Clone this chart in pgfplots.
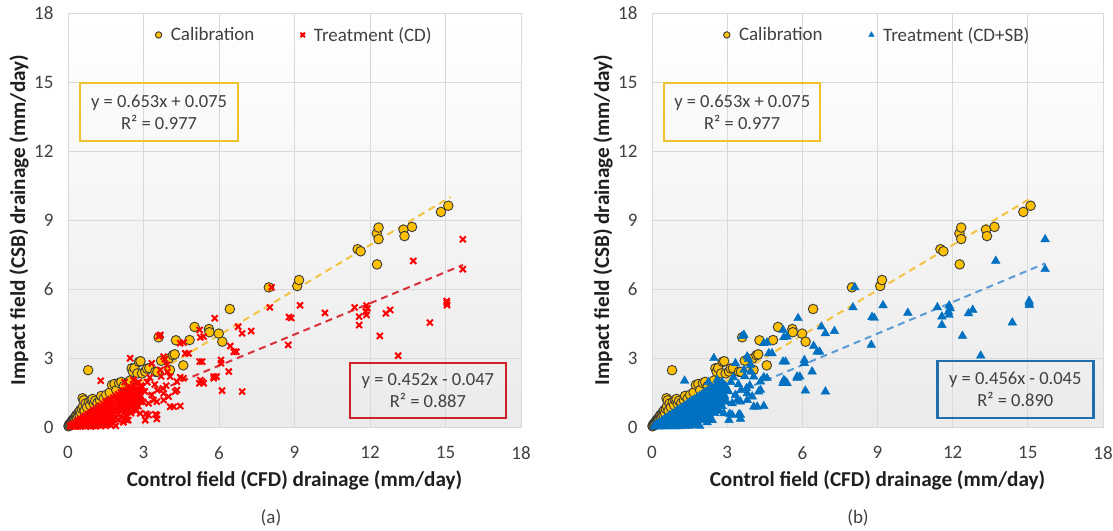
\documentclass[border=0pt]{standalone}
\usepackage{pgfplots}
\pgfplotsset{compat=1.18}
\usepackage{pgfplotstable}
\usepackage{fontspec}
\setmainfont{Carlito}
\definecolor{calfill}{HTML}{FFC000}
\definecolor{caledge}{HTML}{3A3A3A}
\definecolor{trtred}{HTML}{FF0000}
\definecolor{redline}{HTML}{D9303A}
\definecolor{redbox}{HTML}{D0202A}
\definecolor{trtblue}{HTML}{0070C0}
\definecolor{blueline}{HTML}{5B9BD5}
\definecolor{bluebox}{HTML}{1F6FAE}
\definecolor{yelline}{HTML}{F5C342}
\definecolor{yelbox}{HTML}{F2C12E}
\definecolor{gridc}{HTML}{D9D9D9}
\definecolor{tickc}{HTML}{404040}

\pgfplotstableread{
x y
0.02 0.03
0.04 0.10
0.06 0.06
0.08 0.14
0.10 0.10
0.12 0.20
0.14 0.16
0.16 0.26
0.18 0.22
0.20 0.32
0.22 0.18
0.24 0.36
0.26 0.28
0.28 0.42
0.30 0.34
0.32 0.50
0.35 0.40
0.38 0.56
0.40 0.48
0.43 0.64
0.46 0.52
0.48 0.72
0.52 0.60
0.55 0.80
0.58 1.25
0.60 0.90
0.63 1.16
0.66 0.70
0.70 1.02
0.75 0.86
0.80 2.47
0.83 1.08
0.88 0.95
0.93 1.18
0.98 1.22
1.03 1.00
1.08 1.14
1.17 1.05
1.27 1.16
1.32 1.35
1.42 1.24
1.52 1.40
1.66 1.50
1.75 1.83
1.85 1.87
1.92 1.60
2.03 1.91
2.12 1.96
2.22 1.78
2.40 1.94
2.47 2.02
2.53 2.55
2.58 2.40
2.64 2.56
2.76 2.33
2.82 2.83
2.88 2.86
2.94 2.33
3.07 2.41
3.14 2.54
3.23 2.56
3.47 2.40
3.55 2.40
3.60 3.90
3.70 2.88
4.00 2.97
4.05 2.48
4.17 3.12
4.24 3.16
4.29 3.77
4.58 2.68
4.83 3.78
5.03 4.35
5.60 4.26
5.62 4.12
5.99 4.06
6.13 3.71
6.43 5.13
7.98 6.07
9.11 6.13
9.18 6.39
11.51 7.73
11.63 7.64
12.27 8.42
12.28 7.07
12.34 8.67
12.34 8.17
13.33 8.58
13.37 8.30
13.67 8.70
14.82 9.35
15.11 9.62
}\calib

\pgfplotstableread{
x y
0.10 0.02
0.10 0.06
0.20 0.03
0.20 0.08
0.20 0.13
0.30 0.02
0.30 0.10
0.30 0.18
0.40 0.03
0.40 0.12
0.40 0.22
0.40 0.28
0.50 0.02
0.50 0.10
0.50 0.20
0.50 0.30
0.50 0.35
0.60 0.05
0.60 0.15
0.60 0.25
0.60 0.35
0.60 0.42
0.70 0.03
0.70 0.12
0.70 0.22
0.70 0.32
0.70 0.42
0.70 0.50
0.80 0.05
0.80 0.15
0.80 0.25
0.80 0.35
0.80 0.45
0.80 0.56
0.90 0.02
0.90 0.12
0.90 0.22
0.90 0.32
0.90 0.42
0.90 0.52
0.90 0.62
1.00 0.05
1.00 0.15
1.00 0.28
1.00 0.40
1.00 0.52
1.00 0.65
1.00 0.72
1.10 0.03
1.10 0.12
1.10 0.25
1.10 0.38
1.10 0.50
1.10 0.62
1.10 0.78
1.20 0.08
1.20 0.20
1.20 0.32
1.20 0.45
1.20 0.58
1.20 0.70
1.20 0.85
1.30 0.05
1.30 0.18
1.30 0.30
1.30 0.42
1.30 0.55
1.30 0.68
1.30 0.80
1.30 0.92
1.40 0.10
1.40 0.25
1.40 0.40
1.40 0.55
1.40 0.70
1.40 0.85
1.40 1.00
1.50 0.05
1.50 0.20
1.50 0.35
1.50 0.50
1.50 0.65
1.50 0.80
1.50 0.95
1.50 1.08
1.60 0.12
1.60 0.28
1.60 0.45
1.60 0.60
1.60 0.75
1.60 0.90
1.60 1.05
1.60 1.15
1.70 0.08
1.70 0.30
1.70 0.50
1.70 0.68
1.70 0.85
1.70 1.00
1.70 1.20
1.80 0.15
1.80 0.35
1.80 0.55
1.80 0.75
1.80 0.92
1.80 1.10
1.80 1.28
1.90 0.05
1.90 0.40
1.90 0.62
1.90 0.80
1.90 1.00
1.90 1.18
1.90 1.35
2.00 0.30
2.00 0.55
2.00 0.75
2.00 0.95
2.00 1.12
2.00 1.30
2.00 1.42
2.10 0.45
2.10 0.70
2.10 0.90
2.10 1.10
2.10 1.28
2.10 1.50
2.20 0.20
2.20 0.60
2.20 0.85
2.20 1.05
2.20 1.25
2.20 1.45
2.20 1.58
2.30 0.50
2.30 0.80
2.30 1.00
2.30 1.20
2.30 1.40
2.30 1.60
2.40 0.30
2.40 0.70
2.40 0.95
2.40 1.15
2.40 1.35
2.40 1.55
2.40 1.70
2.50 0.60
2.50 0.90
2.50 1.10
2.50 1.30
2.50 1.50
2.50 1.72
2.60 0.80
2.60 1.05
2.60 1.25
2.60 1.45
2.60 1.65
2.60 1.82
2.70 0.70
2.70 1.00
2.70 1.20
2.70 1.40
2.70 1.60
2.70 1.90
2.80 0.90
2.80 1.15
2.80 1.40
2.80 1.62
2.80 1.95
2.90 1.10
2.90 1.35
2.90 1.60
2.90 1.80
1.74 0.30
2.27 0.35
3.07 0.30
3.53 0.35
2.34 0.30
2.87 0.59
3.20 0.52
3.53 0.52
3.10 0.57
3.47 0.55
1.30 2.01
2.47 2.99
2.98 1.10
3.20 1.03
3.40 1.17
3.53 1.10
3.80 1.17
4.00 1.32
3.77 1.68
3.80 1.46
3.33 1.39
4.06 0.88
4.20 0.88
4.46 0.91
4.26 1.54
4.33 1.61
4.33 1.97
4.59 2.12
4.46 2.16
4.06 2.19
3.67 2.48
3.93 2.70
3.80 3.06
3.85 2.95
3.33 2.77
3.67 4.00
3.60 3.95
4.46 3.64
4.59 3.67
4.66 3.20
4.79 3.20
5.23 2.84
5.26 3.90
5.23 4.22
5.26 2.04
5.39 1.90
5.22 1.90
5.79 2.12
5.90 2.19
5.83 4.73
5.39 3.93
5.33 2.84
6.08 2.91
6.08 2.77
6.39 2.41
5.79 2.19
5.33 1.97
6.12 1.58
6.92 1.54
6.45 3.52
6.59 3.27
6.69 3.27
6.76 4.36
6.92 4.07
7.28 4.17
3.95 2.40
3.70 2.20
3.15 1.95
3.25 2.15
2.95 1.75
3.05 1.55
3.45 1.85
3.55 1.60
3.90 1.80
2.60 2.05
2.25 1.95
8.09 6.07
8.02 5.20
9.22 5.29
8.78 4.78
8.87 4.74
8.75 3.57
10.21 4.96
11.39 5.20
11.86 5.28
11.90 5.16
11.83 5.01
11.86 4.87
11.57 4.80
11.57 4.43
12.63 4.94
12.80 5.09
12.39 3.96
13.12 3.10
13.72 7.22
14.38 4.54
15.05 5.48
15.06 5.30
15.05 5.40
15.69 8.16
15.69 6.86
}\treat

\pgfplotsset{panel/.style={
  scale only axis, height=414bp,
  xmin=0, xmax=18, ymin=0, ymax=18,
  xtick={0,3,...,18}, ytick={0,3,...,18},
  /pgf/number format/assume math mode=true,
  grid=major, major grid style={gridc, line width=0.8bp},
  axis line style={gridc, line width=0.8bp},
  major tick length=0pt,
  axis background/.style={shade, top color=white, bottom color=black!8},
  tick label style={font=\fontsize{19bp}{22bp}\selectfont, text=tickc},
  xticklabel style={anchor=north, yshift=-16bp},
  yticklabel style={anchor=east, xshift=-11bp},
  label style={font=\fontsize{21.2bp}{25bp}\selectfont\bfseries, text=black!88},
  xlabel style={at={(axis description cs:0.5,0)}, anchor=center, yshift=-53bp},
  ylabel style={at={(axis description cs:0,0.5)}, anchor=center, yshift=49bp},
  xlabel={Control field (CFD) drainage (mm/day)},
  ylabel={Impact field (CSB) drainage (mm/day)},
  legend style={draw=none, fill=none, at={(0.5,0.947)}, anchor=center,
    legend columns=-1, font=\fontsize{19bp}{22bp}\selectfont, text=tickc,
    /tikz/every even column/.append style={column sep=44bp},
    /tikz/every odd column/.append style={column sep=7bp}},
  legend image code/.code={\draw[#1] plot coordinates {(0bp,0bp)};},
  legend image post style={mark size=3.2bp},
  clip=false,
}}

\begin{document}
\begin{tikzpicture}
\useasboundingbox (0,0) rectangle (1113bp,531bp);
% ---------- panel (a)
\begin{axis}[panel, width=453bp, at={(68bp,104bp)}, anchor=south west]
\addplot[only marks, mark=*, mark size=4.8bp, mark options={fill=calfill, draw=caledge, line width=0.9bp}] table {\calib};
\addlegendentry{Calibration}
\addplot[only marks, trtred, mark=x, mark size=4.2bp, mark options={line width=2bp}] table {\treat};
\addlegendentry{Treatment (CD)}
\addplot[forget plot, yelline, line width=2bp, dash pattern=on 7bp off 5bp] coordinates {(0,0.075) (15.2,10.0)};
\addplot[forget plot, redline, line width=2bp, dash pattern=on 7bp off 5bp] coordinates {(0.1,0.0) (15.7,7.05)};
\node[draw=yelbox, line width=2.4bp, minimum width=158bp, minimum height=58bp, inner sep=0pt, align=center, text=tickc, font=\fontsize{18.5bp}{22bp}\selectfont] at (axis cs:3.62,13.7) {y = 0.653x + 0.075\\R² = 0.977};
\node[draw=redbox, line width=2.4bp, minimum width=156bp, minimum height=55bp, inner sep=0pt, align=center, text=tickc, font=\fontsize{18.5bp}{22bp}\selectfont] at (axis cs:14.3,1.585) {y = 0.452x - 0.047\\R² = 0.887};
\end{axis}
% ---------- panel (b)
\begin{axis}[panel, width=451bp, at={(652bp,104bp)}, anchor=south west]
\addplot[only marks, mark=*, mark size=4.8bp, mark options={fill=calfill, draw=caledge, line width=0.9bp}] table {\calib};
\addlegendentry{Calibration}
\addplot[only marks, trtblue, mark=triangle*, mark size=5bp, mark options={fill=trtblue, draw=trtblue}] table {\treat};
\addlegendentry{Treatment (CD+SB)}
\addplot[forget plot, yelline, line width=2bp, dash pattern=on 7bp off 5bp] coordinates {(0,0.075) (15.2,10.0)};
\addplot[forget plot, blueline, line width=2bp, dash pattern=on 7bp off 5bp] coordinates {(0.1,0.0) (15.7,7.12)};
\node[draw=yelbox, line width=2.4bp, minimum width=156bp, minimum height=58bp, inner sep=0pt, align=center, text=tickc, font=\fontsize{18.5bp}{22bp}\selectfont] at (axis cs:3.6,13.7) {y = 0.653x + 0.075\\R² = 0.977};
\node[draw=bluebox, line width=2.4bp, minimum width=156bp, minimum height=57bp, inner sep=0pt, align=center, text=tickc, font=\fontsize{18.5bp}{22bp}\selectfont] at (axis cs:14.5,1.62) {y = 0.456x - 0.045\\R² = 0.890};
\end{axis}
\node[font=\fontsize{19bp}{22bp}\selectfont, text=tickc] at (271bp,13bp) {(a)};
\node[font=\fontsize{19bp}{22bp}\selectfont, text=tickc] at (858bp,13bp) {(b)};
\end{tikzpicture}
\end{document}
